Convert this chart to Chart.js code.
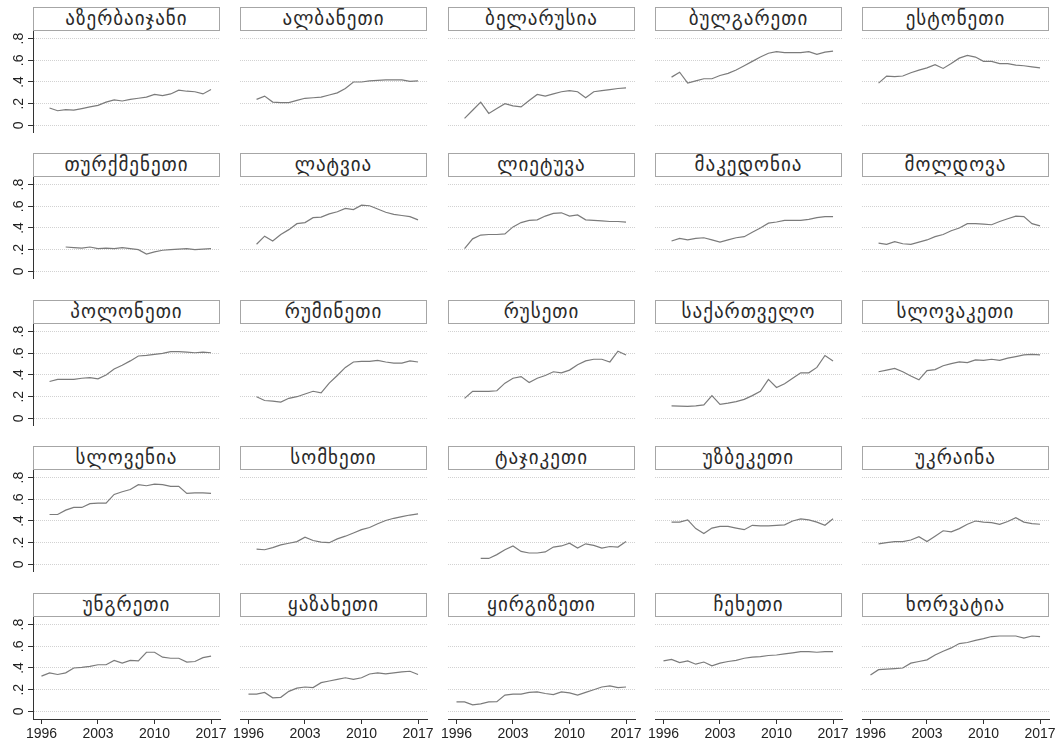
<!DOCTYPE html>
<html>
<head>
<meta charset="utf-8">
<script src="https://cdn.jsdelivr.net/npm/chart.js@4/dist/chart.umd.min.js"></script>
<style>
  body { margin: 0; background: #fff; width: 1056px; height: 744px; position: relative; overflow: hidden; }
  .ttl {
    position: absolute; box-sizing: border-box; height: 24px;
    border: 1px solid #a6a6a6; background: #fff; text-align: center;
    font-family: "DejaVu Sans", sans-serif; font-size: 19px; line-height: 21px; color: #2a2a2a;
    letter-spacing: 1px; white-space: nowrap;
  }
  canvas { position: absolute; }
</style>
</head>
<body>
<script>
// years and tick labels
const years = [1996, 1997, 1998, 1999, 2000, 2001, 2002, 2003, 2004, 2005, 2006,
               2007, 2008, 2009, 2010, 2011, 2012, 2013, 2014, 2015, 2016, 2017];
const xTicks = [1996, 2003, 2010, 2017];
const yTicks = [0, 0.2, 0.4, 0.6, 0.8];
const yLabels = ["0", ".2", ".4", ".6", ".8"];

const countryNames = [
  "აზერბაიჯანი", "ალბანეთი", "ბელარუსია", "ბულგარეთი", "ესტონეთი",
  "თურქმენეთი", "ლატვია", "ლიეტუვა", "მაკედონია", "მოლდოვა",
  "პოლონეთი", "რუმინეთი", "რუსეთი", "საქართველო", "სლოვაკეთი",
  "სლოვენია", "სომხეთი", "ტაჯიკეთი", "უზბეკეთი", "უკრაინა",
  "უნგრეთი", "ყაზახეთი", "ყირგიზეთი", "ჩეხეთი", "ხორვატია"
];

// one array per country, 1996..2017 (null = no data)
const azerbaijan = [null, 0.16, 0.135, 0.145, 0.14, 0.155, 0.17, 0.185, 0.215, 0.235, 0.225, 0.24, 0.25, 0.26, 0.285, 0.275, 0.29, 0.325, 0.315, 0.31, 0.29, 0.33];
const albania    = [null, 0.24, 0.27, 0.215, 0.21, 0.21, 0.23, 0.25, 0.255, 0.26, 0.28, 0.30, 0.34, 0.40, 0.40, 0.41, 0.415, 0.42, 0.42, 0.42, 0.405, 0.41];
const belarus    = [null, 0.065, 0.14, 0.215, 0.11, 0.155, 0.20, 0.18, 0.17, 0.23, 0.285, 0.27, 0.29, 0.31, 0.32, 0.31, 0.255, 0.31, 0.32, 0.33, 0.34, 0.345];
const bulgaria   = [null, 0.445, 0.49, 0.39, 0.41, 0.43, 0.43, 0.46, 0.48, 0.51, 0.55, 0.59, 0.63, 0.665, 0.68, 0.67, 0.67, 0.67, 0.68, 0.655, 0.675, 0.685];
const estonia    = [null, 0.39, 0.455, 0.45, 0.455, 0.485, 0.51, 0.53, 0.56, 0.525, 0.57, 0.62, 0.645, 0.63, 0.59, 0.59, 0.57, 0.57, 0.555, 0.55, 0.54, 0.53];
const turkmenistan = [null, null, null, 0.225, 0.22, 0.215, 0.225, 0.21, 0.215, 0.21, 0.22, 0.21, 0.20, 0.16, 0.18, 0.195, 0.20, 0.205, 0.21, 0.20, 0.205, 0.21];
const latvia     = [null, 0.25, 0.325, 0.28, 0.34, 0.385, 0.44, 0.45, 0.495, 0.50, 0.53, 0.55, 0.58, 0.57, 0.61, 0.605, 0.575, 0.545, 0.525, 0.515, 0.505, 0.475];
const lithuania  = [null, 0.21, 0.30, 0.335, 0.34, 0.34, 0.345, 0.41, 0.45, 0.47, 0.475, 0.51, 0.535, 0.54, 0.51, 0.52, 0.475, 0.47, 0.465, 0.46, 0.46, 0.455];
const macedonia  = [null, 0.28, 0.305, 0.29, 0.305, 0.31, 0.29, 0.27, 0.29, 0.31, 0.32, 0.36, 0.40, 0.445, 0.455, 0.47, 0.47, 0.47, 0.48, 0.495, 0.505, 0.505];
const moldova    = [null, 0.26, 0.25, 0.275, 0.255, 0.25, 0.27, 0.29, 0.32, 0.34, 0.375, 0.40, 0.44, 0.44, 0.435, 0.43, 0.46, 0.485, 0.51, 0.505, 0.44, 0.42];
const poland     = [null, 0.34, 0.36, 0.36, 0.36, 0.37, 0.375, 0.365, 0.40, 0.455, 0.49, 0.53, 0.575, 0.58, 0.59, 0.60, 0.615, 0.615, 0.61, 0.605, 0.61, 0.605];
const romania    = [null, 0.20, 0.165, 0.16, 0.15, 0.185, 0.20, 0.225, 0.25, 0.235, 0.325, 0.395, 0.47, 0.52, 0.525, 0.525, 0.535, 0.52, 0.51, 0.51, 0.53, 0.52];
const russia     = [null, 0.185, 0.25, 0.25, 0.25, 0.255, 0.325, 0.37, 0.385, 0.33, 0.37, 0.395, 0.43, 0.42, 0.445, 0.495, 0.53, 0.545, 0.545, 0.52, 0.62, 0.585];
const georgia    = [null, 0.115, 0.113, 0.11, 0.115, 0.125, 0.21, 0.13, 0.14, 0.155, 0.175, 0.21, 0.25, 0.36, 0.285, 0.32, 0.37, 0.42, 0.42, 0.47, 0.58, 0.53];
const slovakia   = [null, 0.43, 0.445, 0.46, 0.43, 0.39, 0.355, 0.44, 0.45, 0.485, 0.505, 0.52, 0.515, 0.54, 0.535, 0.545, 0.535, 0.555, 0.57, 0.585, 0.59, 0.585];
const slovenia   = [null, 0.46, 0.46, 0.50, 0.525, 0.525, 0.56, 0.565, 0.565, 0.645, 0.67, 0.69, 0.735, 0.725, 0.74, 0.735, 0.72, 0.72, 0.655, 0.66, 0.66, 0.655];
const armenia    = [null, 0.14, 0.135, 0.155, 0.18, 0.195, 0.21, 0.25, 0.22, 0.205, 0.20, 0.235, 0.26, 0.29, 0.32, 0.34, 0.375, 0.405, 0.425, 0.44, 0.455, 0.465];
const tajikistan = [null, null, null, 0.055, 0.055, 0.09, 0.135, 0.17, 0.12, 0.105, 0.105, 0.115, 0.16, 0.17, 0.195, 0.15, 0.19, 0.175, 0.15, 0.165, 0.16, 0.21];
const uzbekistan = [null, 0.39, 0.39, 0.41, 0.33, 0.285, 0.335, 0.35, 0.35, 0.335, 0.32, 0.36, 0.355, 0.355, 0.36, 0.365, 0.40, 0.42, 0.41, 0.39, 0.36, 0.42];
const ukraine    = [null, 0.19, 0.20, 0.21, 0.21, 0.225, 0.255, 0.21, 0.26, 0.31, 0.30, 0.33, 0.37, 0.40, 0.39, 0.385, 0.37, 0.395, 0.43, 0.39, 0.375, 0.37];
const hungary    = [0.325, 0.355, 0.34, 0.355, 0.40, 0.405, 0.415, 0.43, 0.43, 0.47, 0.445, 0.47, 0.465, 0.545, 0.545, 0.50, 0.49, 0.49, 0.455, 0.46, 0.495, 0.51];
const kazakhstan = [0.16, 0.16, 0.175, 0.125, 0.13, 0.185, 0.215, 0.225, 0.22, 0.265, 0.28, 0.295, 0.31, 0.295, 0.31, 0.345, 0.355, 0.345, 0.355, 0.365, 0.37, 0.34];
const kyrgyzstan = [0.087, 0.087, 0.06, 0.07, 0.087, 0.09, 0.15, 0.16, 0.16, 0.175, 0.18, 0.165, 0.155, 0.18, 0.17, 0.15, 0.175, 0.20, 0.225, 0.235, 0.22, 0.225];
const czechia    = [0.465, 0.48, 0.45, 0.465, 0.435, 0.455, 0.42, 0.445, 0.46, 0.47, 0.49, 0.50, 0.505, 0.515, 0.52, 0.53, 0.54, 0.55, 0.55, 0.545, 0.55, 0.55];
const croatia    = [0.335, 0.385, 0.39, 0.395, 0.40, 0.445, 0.46, 0.475, 0.52, 0.555, 0.585, 0.625, 0.635, 0.655, 0.67, 0.69, 0.695, 0.695, 0.695, 0.675, 0.695, 0.69];

const series = [
  azerbaijan, albania, belarus, bulgaria, estonia,
  turkmenistan, latvia, lithuania, macedonia, moldova,
  poland, romania, russia, georgia, slovakia,
  slovenia, armenia, tajikistan, uzbekistan, ukraine,
  hungary, kazakhstan, kyrgyzstan, czechia, croatia
];

// layout
const colLeft = [33, 240, 448, 655, 862];
const rowTop = [7, 153, 300, 446, 593];
const panelW = 187;
const titleH = 24;
const plotH = 102;
const xMin = 1994.95, xMax = 2018.11;
const yMin = -0.07, yMax = 0.87;
const xFont = '"Liberation Sans Narrow", "Liberation Sans", Arial, sans-serif';
const yFont = '"Liberation Sans", Arial, sans-serif';

function makePanel(i) {
  const r = Math.floor(i / 5), c = i % 5;
  const leftW = c === 0 ? 33 : 10;
  const rightW = 10;
  const botH = r === 4 ? 28 : 0;

  const t = document.createElement('div');
  t.className = 'ttl';
  t.style.left = colLeft[c] + 'px';
  t.style.top = rowTop[r] + 'px';
  t.style.width = panelW + 'px';
  t.textContent = countryNames[i];
  document.body.appendChild(t);

  const cv = document.createElement('canvas');
  cv.width = leftW + panelW + rightW;
  cv.height = plotH + botH;
  cv.style.left = (colLeft[c] - leftW) + 'px';
  cv.style.top = (rowTop[r] + titleH) + 'px';
  document.body.appendChild(cv);

  const pts = [];
  years.forEach((yr, k) => { if (series[i][k] !== null) pts.push({ x: yr, y: series[i][k] }); });

  new Chart(cv, {
    type: 'line',
    data: {
      datasets: [{
        data: pts,
        borderColor: '#7b7b7b',
        borderWidth: 1.2,
        pointRadius: 0,
        tension: 0,
        fill: false
      }]
    },
    options: {
      responsive: false,
      animation: false,
      events: [],
      layout: { padding: { left: 0, right: rightW, top: 0, bottom: 0 } },
      plugins: { legend: { display: false }, tooltip: { enabled: false } },
      scales: {
        x: {
          type: 'linear',
          min: xMin,
          max: xMax,
          display: r === 4,
          afterBuildTicks: s => { s.ticks = xTicks.map(v => ({ value: v })); },
          afterFit: s => { s.height = botH; s.paddingLeft = 0; s.paddingRight = 0; },
          grid: { drawOnChartArea: false, drawTicks: true, tickLength: 5, tickColor: '#333', tickWidth: 1 },
          border: { display: true, color: '#333', width: 1 },
          ticks: {
            color: '#222', padding: 2, maxRotation: 0, minRotation: 0, autoSkip: false,
            font: { family: xFont, size: 14 },
            callback: v => String(v)
          }
        },
        y: {
          min: yMin,
          max: yMax,
          afterBuildTicks: s => { s.ticks = yTicks.map(v => ({ value: v })); },
          afterFit: s => { s.width = leftW; s.paddingTop = 0; s.paddingBottom = 0; },
          grid: { color: '#d2d2d2', lineWidth: 1, drawTicks: c === 0, tickLength: 5, tickColor: '#333', tickWidth: 1 },
          border: { display: c === 0, color: '#333', width: 1, dash: [1, 1] },
          ticks: {
            display: c === 0,
            color: '#222', padding: 3, minRotation: 90, maxRotation: 90, crossAlign: 'center',
            font: { family: yFont, size: 14 },
            callback: (v, idx) => yLabels[idx]
          }
        }
      }
    }
  });
}

for (let i = 0; i < series.length; i++) makePanel(i);
</script>
</body>
</html>
